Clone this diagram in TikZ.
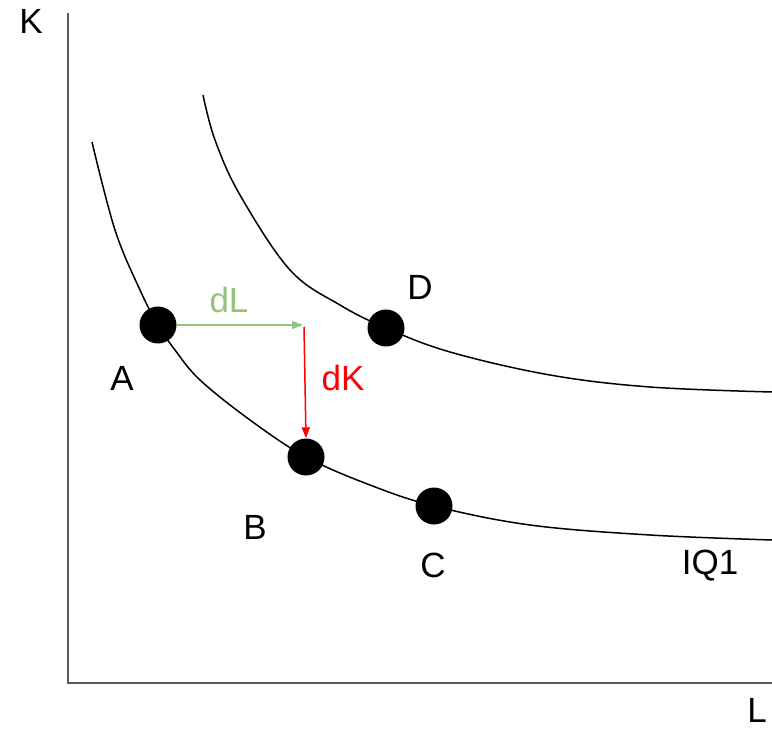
\documentclass[tikz,border=0pt]{standalone}
\usepackage{fontspec}
\setmainfont{Liberation Sans}
\usepackage{tikz}
\usetikzlibrary{arrows.meta, positioning}
\definecolor{axisgray}{RGB}{89, 89, 89}
\definecolor{dLgreen}{RGB}{147, 196, 125}
\definecolor{dKred}{RGB}{255, 0, 0}

\begin{document}
\begin{tikzpicture}[x=1pt, y=-1pt,
    lbl/.style={font=\fontsize{35}{42}\selectfont, inner sep=0pt},
    pt/.style={draw=none, fill=black, circle, minimum size=37pt, inner sep=0pt}]
  \useasboundingbox (0,0) rectangle (772,730);
  % axes
  \draw[axisgray, line width=2.2pt] (68,13) -- (68,683) -- (772,683);
  \node[lbl] (kaxis) at (31,21) {K};
  \node[lbl] (laxis) at (757,710) {L};
  % isoquants
  \draw[line width=1.5pt] plot[smooth, tension=0.6] coordinates {
    (92,142) (115,230) (140,290) (158,325) (175,350) (200,380) (250,420)
    (306,457) (370,485) (434,506) (530,525) (650,535) (772,540)};
  \draw[line width=1.5pt] plot[smooth, tension=0.6] coordinates {
    (203,95) (215,140) (240,195) (290,270) (340,305) (386,328) (450,352)
    (550,375) (650,387) (772,392)};
  % points
  \node[pt] (A) at (158,325) {};
  \node[pt] (B) at (306,457) {};
  \node[pt] (C) at (434,506) {};
  \node[pt] (D) at (386,328) {};
  \node[lbl] (Alab) at (122,378) {A};
  \node[lbl] (Blab) at (255,527) {B};
  \node[lbl] (Clab) at (433,565) {C};
  \node[lbl] (Dlab) at (420,287) {D};
  \node[lbl] (iq) at (710,566) {IQ1};
  % changes in L and K
  \coordinate (corner) at (303,325);
  \coordinate (kstart) at (304,327);
  \draw[dLgreen, line width=1.5pt, -{Triangle[length=11pt, width=8pt]}] (A) -- (corner);
  \draw[dKred, line width=1.5pt, -{Triangle[length=11pt, width=8pt]}] (kstart) -- (B.north);
  \node[lbl, dLgreen] (dL) at (229,300) {dL};
  \node[lbl, dKred] (dK) at (343,378) {dK};
\end{tikzpicture}
\end{document}
